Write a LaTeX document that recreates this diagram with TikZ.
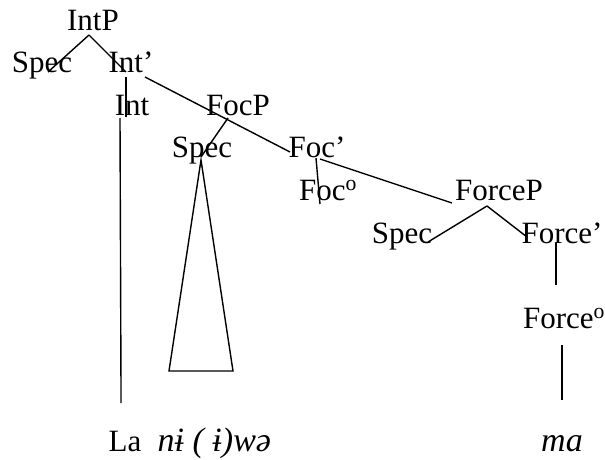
\documentclass[tikz,border=0pt]{standalone}
\usepackage{fontspec}
\setmainfont{Liberation Serif}
\usepackage{tikz}

\begin{document}
\begin{tikzpicture}[
    x=1pt, y=-1pt,
    line width=1.4pt,
    cat/.style={inner sep=0pt, anchor=base, font=\fontsize{31}{37}\selectfont},
    word/.style={inner sep=0pt, anchor=base, font=\fontsize{34}{40}\selectfont\itshape},
  ]
  \useasboundingbox (0,0) rectangle (605,460);
  % categories
  \node[cat] (intp)     at (93,31)   {IntP};
  \node[cat] (spec1)    at (42,73)   {Spec};
  \node[cat] (intbar)   at (131,73)  {Int’};
  \node[cat] (int)      at (132,115) {Int};
  \node[cat] (focp)     at (238,115) {FocP};
  \node[cat] (spec2)    at (202,157) {Spec};
  \node[cat] (focbar)   at (317,157) {Foc’};
  \node[cat] (foc0)     at (328,200) {Foc\textsuperscript{o}};
  \node[cat] (forcep)   at (499,200) {ForceP};
  \node[cat] (spec3)    at (402,243) {Spec};
  \node[cat] (forcebar) at (562,243) {Force’};
  \node[cat] (force0)   at (564,328) {Force\textsuperscript{o}};
  % words
  \node[cat, anchor=base west] (la) at (108,451) {La};
  \node[word, anchor=base west] (niwe) at (157,451) {nɨ ( ɨ)wə};
  \node[word] (ma) at (562,451) {ma};
  % branches
  \draw ([xshift=-4pt,yshift=-4pt]intp.base) -- ([xshift=6pt,yshift=1pt]spec1.base);
  \draw ([xshift=-4pt,yshift=-4pt]intp.base) -- ([xshift=-5pt,yshift=1pt]intbar.base);
  \draw ([xshift=14pt,yshift=-4pt]intbar.base) -- ([xshift=-27pt,yshift=5pt]focbar.base);
  \draw ([xshift=-5pt,yshift=-4pt]intbar.base) -- ([xshift=-6pt,yshift=-2pt]int.base);
  \draw ([xshift=-12pt,yshift=-3pt]int.base) -- ([xshift=-4pt,yshift=48pt]la.base);
  \draw ([xshift=-10pt,yshift=-3pt]focp.base) -- ([xshift=-1pt]spec2.base);
  \draw ([xshift=-1pt,yshift=-3pt]spec2.base) -- ++(-32,211) -- ++(64,0) -- cycle;
  \draw ([xshift=-1pt,yshift=-1pt]focbar.base) -- ([xshift=-8pt,yshift=-4pt]foc0.base);
  \draw ([xshift=3pt,yshift=-2pt]focbar.base) -- ([xshift=-47pt,yshift=-3pt]forcep.base);
  \draw ([xshift=-12pt,yshift=-6pt]forcep.base) -- ([xshift=26pt,yshift=1pt]spec3.base);
  \draw ([xshift=-12pt,yshift=-6pt]forcep.base) -- ([xshift=-35pt,yshift=6pt]forcebar.base);
  \draw ([xshift=-6pt]forcebar.base) -- ([xshift=-8pt,yshift=43pt]force0.base);
  \draw ([xshift=-2pt,yshift=-17pt]force0.base) -- ([yshift=51pt]ma.base);
\end{tikzpicture}
\end{document}
